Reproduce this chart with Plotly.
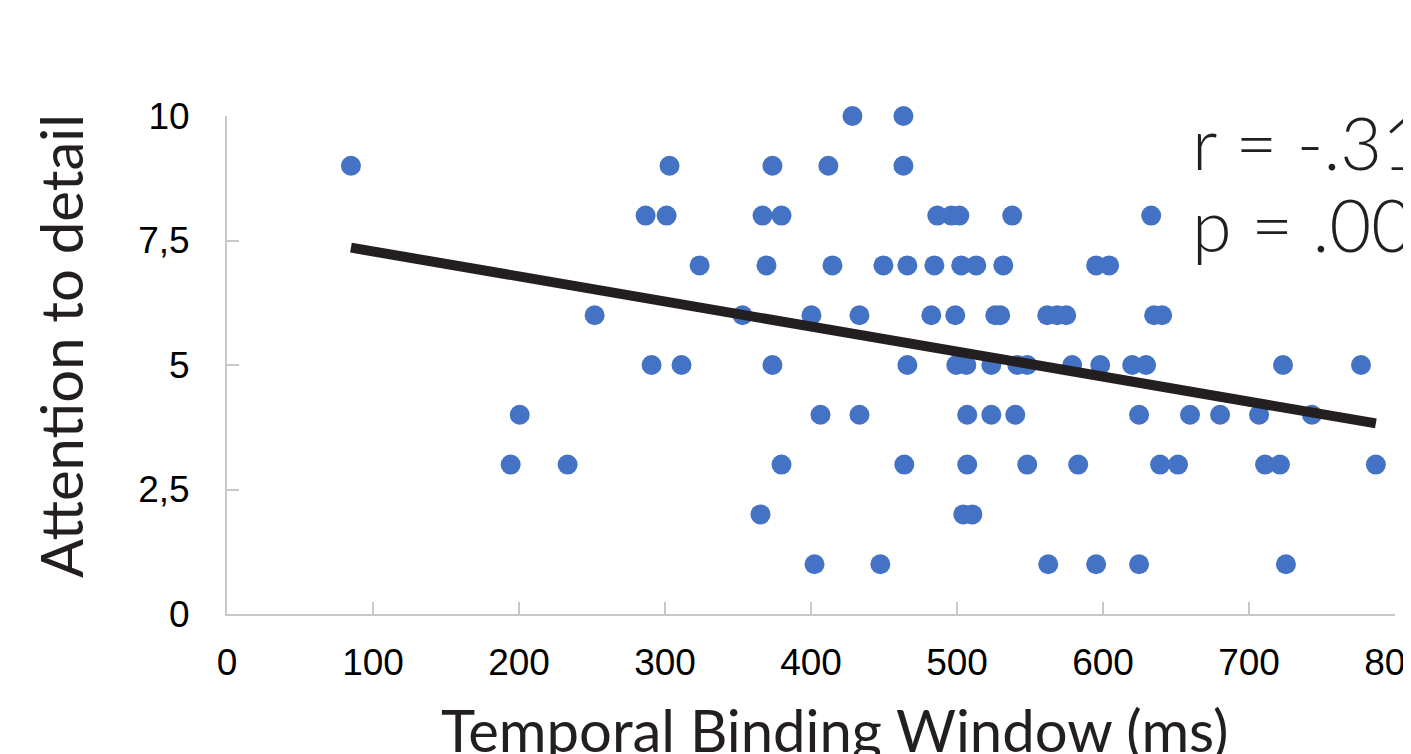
import numpy as np
import plotly.graph_objects as go

# Temporal Binding Window (ms) grouped by Attention-to-detail score
tbw_10 = [428.4, 463.3]
tbw_9 = [84.9, 303.1, 373.6, 411.9, 463.3]
tbw_8 = [286.7, 301.1, 366.8, 379.8, 486.5, 496.1, 501.6, 537.8, 633.0]
tbw_7 = [323.7, 369.5, 414.7, 449.6, 466.0, 484.5, 502.9, 513.2, 531.7, 595.3, 604.2]
tbw_6 = [251.8, 353.1, 400.3, 433.2, 482.4, 498.8, 526.2, 529.6, 561.8, 568.6, 574.8, 635.0, 640.5]
tbw_5 = [290.8, 311.3, 373.6, 466.0, 499.5, 506.4, 523.5, 541.3, 548.1, 578.9, 598.1, 620.0, 629.5, 723.3, 776.7]
tbw_4 = [200.5, 406.5, 433.2, 507.0, 523.5, 539.9, 624.7, 659.6, 680.2, 706.9, 743.1]
tbw_3 = [194.3, 233.3, 379.8, 463.9, 507.0, 548.1, 583.0, 639.1, 651.4, 711.0, 721.2, 786.9]
tbw_2 = [365.4, 504.3, 510.5]
tbw_1 = [402.4, 447.5, 562.5, 595.3, 624.7, 725.3]

groups = {10: tbw_10, 9: tbw_9, 8: tbw_8, 7: tbw_7, 6: tbw_6,
          5: tbw_5, 4: tbw_4, 3: tbw_3, 2: tbw_2, 1: tbw_1}

x_vals = []
y_vals = []
for score, xs in groups.items():
    x_vals.extend(xs)
    y_vals.extend([score] * len(xs))
x_vals = np.array(x_vals)
y_vals = np.array(y_vals, dtype=float)

x_ticks = [0, 100, 200, 300, 400, 500, 600, 700, 800]
y_ticks = [0, 2.5, 5, 7.5, 10]
y_tick_labels = ["0", "2,5", "5", "7,5", "10"]

r_label = "r = -.31"
p_label = "p = .003"
x_title = "Temporal Binding Window (ms)"
y_title = "Attention to detail"

# linear trend from data
slope, intercept = np.polyfit(x_vals, y_vals, 1)
trend_x = np.array([x_vals.min(), x_vals.max()])
trend_y = slope * trend_x + intercept

fig = go.Figure()
fig.add_trace(go.Scatter(
    x=x_vals, y=y_vals, mode="markers",
    marker=dict(size=20, color="#4472C4", line=dict(width=0)),
    cliponaxis=False, showlegend=False, hoverinfo="x+y"))
fig.add_trace(go.Scatter(
    x=trend_x, y=trend_y, mode="lines",
    line=dict(color="#231F20", width=10),
    cliponaxis=False, showlegend=False))

tick_font = dict(family="Arial, Liberation Sans", size=37, color="#000000")
fig.update_layout(
    width=1411, height=754,
    margin=dict(l=219, r=24, t=108, b=148, autoexpand=False),
    paper_bgcolor="white", plot_bgcolor="white",
    xaxis=dict(range=[0, 800], tickvals=x_ticks, ticks="inside", ticklen=12,
               tickwidth=2, tickcolor="#C8C8C8", showline=True, linecolor="#C8C8C8",
               linewidth=2, showgrid=False, zeroline=False, automargin=False,
               tickfont=tick_font, ticklabelstandoff=15, ticklabeloverflow="allow"),
    yaxis=dict(range=[0, 10], tickvals=y_ticks, ticktext=y_tick_labels, ticks="inside",
               ticklen=12, tickwidth=2, tickcolor="#C8C8C8", showline=True,
               linecolor="#C8C8C8", linewidth=2, showgrid=False, zeroline=False,
               automargin=False, tickfont=tick_font, ticklabelstandoff=28,
               ticklabeloverflow="allow"),
    annotations=[
        dict(text=x_title, xref="paper", yref="paper", x=0.5205, y=-0.231,
             xanchor="center", yanchor="middle", showarrow=False,
             font=dict(family="Lato", size=58, color="#231F20")),
        dict(text=y_title, xref="paper", yref="paper", x=-0.143, y=0.538,
             xanchor="center", yanchor="middle", textangle=-90, showarrow=False,
             font=dict(family="Lato", size=58, color="#231F20")),
        dict(text=r_label, xref="paper", yref="paper", x=0.8245, y=0.9468,
             xanchor="left", yanchor="middle", showarrow=False,
             font=dict(family="Lato", size=72, color="#231F20", weight=300)),
        dict(text=p_label, xref="paper", yref="paper", x=0.8245, y=0.7841,
             xanchor="left", yanchor="middle", showarrow=False,
             font=dict(family="Lato", size=72, color="#231F20", weight=300)),
    ],
)

fig.write_html("out.html")
